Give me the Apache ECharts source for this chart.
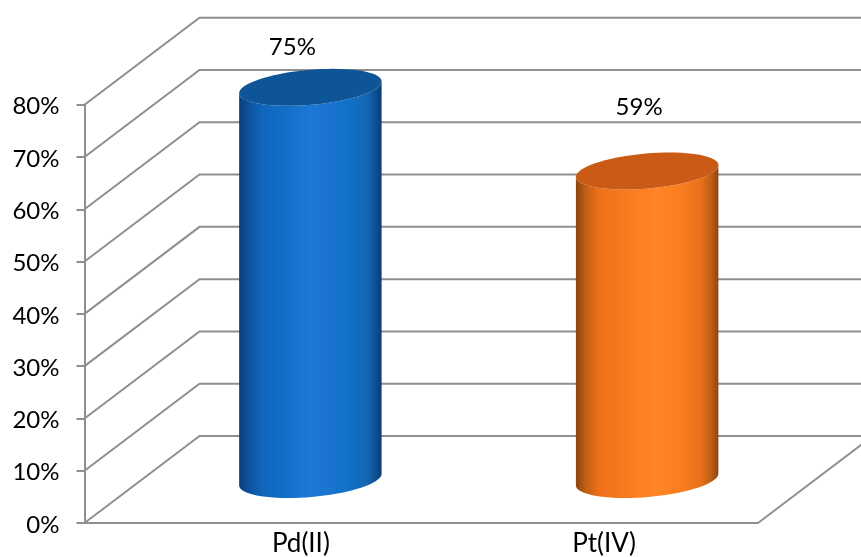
<!DOCTYPE html>
<html>
<head>
<meta charset="utf-8">
<style>html,body{margin:0;padding:0;background:#fff}#chart{width:861px;height:557px}</style>
<script src="https://cdn.jsdelivr.net/npm/echarts@6/dist/echarts.min.js"></script>
</head>
<body>
<div id="chart"></div>
<script>
// Category names, measured percentages and value-axis ticks
const metals = ['Pd(II)', 'Pt(IV)'];
const percentages = [75, 59];
const valueTicks = [0, 10, 20, 30, 40, 50, 60, 70, 80];

// Oblique projection used for the floor, walls and cylinders
const DEPTH_X = 115;
const DEPTH_Y = 87;
const CYL_RX = 71.5;
const CYL_RY = 17.5;
const CYL_TILT = -5 * Math.PI / 180;
const GRID_COLOR = '#8f8f8f';
const FONT = 'Lato, Carlito, sans-serif';

const labelShift = [[-18, -40], [-8, -64]];
const labelPadding = [[0, 0, 0, 96], [0, 0, 0, 29]];

const bodyStops = [
  [['#0a3d78', 0], ['#0d52a0', 0.07], ['#0f66ba', 0.16], ['#1270c8', 0.34], ['#1e78d6', 0.5],
   ['#1c74d0', 0.62], ['#1072c8', 0.76], ['#1466b4', 0.9], ['#0a3d78', 1]],
  [['#8a4510', 0], ['#c25e14', 0.07], ['#ee7019', 0.16], ['#fb7d20', 0.4], ['#ff8526', 0.56],
   ['#fa7d20', 0.74], ['#e8701a', 0.88], ['#bd5f16', 0.95], ['#8a4510', 1]]
];
const capColors = ['#0d5596', '#c95b17'];

function ellipsePoint(cx, cy, t) {
  const x = CYL_RX * Math.cos(t), y = CYL_RY * Math.sin(t);
  return [cx + x * Math.cos(CYL_TILT) - y * Math.sin(CYL_TILT),
          cy + x * Math.sin(CYL_TILT) + y * Math.cos(CYL_TILT)];
}

function arc(cx, cy, from, to, n) {
  const pts = [];
  for (let i = 0; i <= n; i++) pts.push(ellipsePoint(cx, cy, from + (to - from) * i / n));
  return pts;
}

function renderGridLine(params, api) {
  const rect = params.coordSys;
  const y = api.coord([0, api.value(0)])[1];
  const points = [[rect.x, y], [rect.x + DEPTH_X, y - DEPTH_Y], [rect.x + rect.width + DEPTH_X, y - DEPTH_Y]];
  const children = [{
    type: 'polyline', shape: { points },
    style: { stroke: GRID_COLOR, lineWidth: 2, fill: null }
  }];
  if (api.value(0) === 0) {
    children.push({
      type: 'line',
      shape: { x1: rect.x + rect.width, y1: y, x2: rect.x + rect.width + DEPTH_X, y2: y - DEPTH_Y },
      style: { stroke: GRID_COLOR, lineWidth: 2 }
    });
  }
  return { type: 'group', children };
}

function renderCylinder(params, api) {
  const i = api.value(0);
  const value = api.value(1);
  const top = api.coord([i, value]);
  const base = api.coord([i, 0]);
  const cx = top[0] + DEPTH_X / 2;
  const topY = top[1] - DEPTH_Y / 2;
  const baseY = base[1] - DEPTH_Y / 2;
  // Outline: across the top rim left to right, then around the lower half of the base
  const outline = arc(cx, topY, Math.PI, 0, 36)
    .concat(arc(cx, baseY, 0, Math.PI, 36));
  const colors = bodyStops[i].map(s => ({ color: s[0], offset: s[1] }));
  return {
    type: 'group',
    children: [
      {
        type: 'polygon', shape: { points: outline },
        style: {
          fill: new echarts.graphic.LinearGradient(0, 0, 1, 0, colors)
        }
      },
      {
        type: 'polygon',
        shape: { points: arc(cx, topY, 0, Math.PI * 2, 72) },
        style: { fill: capColors[i] }
      },
      {
        type: 'text',
        style: {
          x: cx + labelShift[i][0], y: topY + labelShift[i][1],
          text: value + '%', fill: '#000', font: '24px ' + FONT,
          align: 'center', verticalAlign: 'middle'
        }
      }
    ]
  };
}

const chart = echarts.init(document.getElementById('chart'), null, { renderer: 'canvas' });
chart.setOption({
  animation: false,
  backgroundColor: '#fff',
  grid: { left: 84.5, top: 104.7, width: 673.5, height: 419, containLabel: false },
  xAxis: {
    type: 'category',
    data: metals.map((name, i) => ({ value: name, textStyle: { padding: labelPadding[i] } })),
    axisTick: { show: false },
    axisLine: { lineStyle: { color: GRID_COLOR, width: 2 } },
    axisLabel: { color: '#000', fontSize: 26, fontFamily: FONT, margin: 8 }
  },
  yAxis: {
    type: 'value', min: 0, max: 80, interval: 10,
    splitLine: { show: false },
    axisLine: { show: true, lineStyle: { color: GRID_COLOR, width: 2 } },
    axisTick: { show: true, length: 8, lineStyle: { color: GRID_COLOR, width: 2 } },
    axisLabel: { color: '#000', fontSize: 24, fontFamily: FONT, margin: 25, verticalAlign: 'top', lineHeight: 4, formatter: '{value}%' }
  },
  series: [
    {
      type: 'custom', z: 1, clip: false,
      renderItem: renderGridLine,
      encode: { y: 0 },
      data: valueTicks.map(v => [v])
    },
    {
      type: 'custom', z: 3, clip: false,
      renderItem: renderCylinder,
      encode: { x: 0, y: 1 },
      data: percentages.map((v, i) => [i, v])
    }
  ]
});
</script>
</body>
</html>
